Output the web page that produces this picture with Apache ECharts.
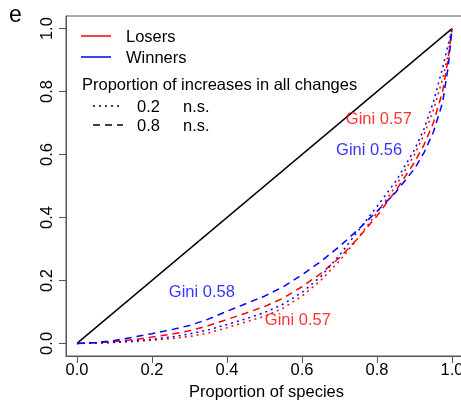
<!DOCTYPE html>
<html>
<head>
<meta charset="utf-8">
<script src="https://cdn.jsdelivr.net/npm/echarts@6/dist/echarts.min.js"></script>
<style>html,body{margin:0;padding:0;background:#fff}#c{width:461px;height:400px}</style>
</head>
<body>
<div id="c"></div>
<script>
// Proportion of species (x) for the Lorenz curves
const propSpecies = [0, 0.05, 0.1, 0.15, 0.2, 0.25, 0.3, 0.35, 0.4, 0.45, 0.5, 0.55, 0.6, 0.65, 0.7, 0.75, 0.8, 0.85, 0.9, 0.925, 0.95, 0.975, 0.99, 1];
// Cumulative proportion (y)
const losers02  = [0, 0.001, 0.003, 0.006, 0.010, 0.015, 0.022, 0.033, 0.050, 0.068, 0.086, 0.112, 0.150, 0.200, 0.262, 0.335, 0.415, 0.500, 0.600, 0.662, 0.740, 0.840, 0.920, 1];
const losers08  = [0, 0.002, 0.006, 0.012, 0.020, 0.029, 0.040, 0.056, 0.076, 0.096, 0.117, 0.144, 0.180, 0.222, 0.272, 0.335, 0.405, 0.485, 0.575, 0.630, 0.700, 0.800, 0.905, 1];
const winners02 = [0, 0.001, 0.004, 0.008, 0.013, 0.020, 0.030, 0.043, 0.060, 0.078, 0.098, 0.125, 0.162, 0.212, 0.280, 0.358, 0.435, 0.515, 0.615, 0.680, 0.765, 0.875, 0.950, 1];
const winners08 = [0, 0.003, 0.009, 0.020, 0.031, 0.043, 0.057, 0.077, 0.102, 0.126, 0.150, 0.180, 0.218, 0.260, 0.308, 0.362, 0.420, 0.480, 0.555, 0.605, 0.670, 0.765, 0.880, 1];
const equalityX = [0, 1];
const equalityY = [0, 1];
const tickValues = [0, 0.2, 0.4, 0.6, 0.8, 1.0];
const tickLabels = ['0.0', '0.2', '0.4', '0.6', '0.8', '1.0'];
// Gini annotations
const giniText  = ['Gini 0.57', 'Gini 0.56', 'Gini 0.58', 'Gini 0.57'];
const giniGroup = ['Losers', 'Winners', 'Winners', 'Losers'];
const giniX = [0.805, 0.779, 0.333, 0.589];
const giniY = [0.711, 0.612, 0.163, 0.073];

const RED = '#ff0000', BLUE = '#0000ff';
const FONT = 'Liberation Sans, Arial, sans-serif';
const FS = 16.5;
const DOT = [2, 4], DASH = [7, 5];

function pairs(xs, ys){ return xs.map((x,i)=>[x, ys[i]]); }
function lineSeries(name, ys, color, type){
  return {name, type:'line', data: pairs(propSpecies, ys), symbol:'none', smooth:false,
    lineStyle:{color, width:1.5, type}, silent:true, animation:false, z:3};
}

const chart = echarts.init(document.getElementById('c'), null, {renderer:'canvas'});
const axisCommon = {
  type:'value', splitLine:{show:false},
  axisLine:{show:true, onZero:false, lineStyle:{color:'#555', width:1}},
  axisTick:{show:true, inside:false, length:7, customValues: tickValues, lineStyle:{color:'#555', width:1}},
  axisLabel:{customValues: tickValues, formatter: v => tickLabels[tickValues.findIndex(t=>Math.abs(t-v)<1e-9)] ?? '',
    color:'#000', fontFamily:FONT, fontSize:FS}
};
chart.setOption({
  animation:false,
  backgroundColor:'#fff',
  grid:{left:66, top:16, width:401, height:340, show:true, borderColor:'#555', borderWidth:1,
        containLabel:false, outerBoundsMode:'none'},
  xAxis: Object.assign({}, axisCommon, {min:-0.0293, max:1.04,
    axisLabel:Object.assign({}, axisCommon.axisLabel, {margin:6}),
    name:'Proportion of species', nameLocation:'middle', nameGap:24,
    nameTextStyle:{color:'#000', fontFamily:FONT, fontSize:FS}}),
  yAxis: Object.assign({}, axisCommon, {min:-0.04, max:1.04,
    axisLabel:Object.assign({}, axisCommon.axisLabel, {rotate:90, margin:10})}),
  series:[
    {type:'line', data:pairs(equalityX, equalityY), symbol:'none', lineStyle:{color:'#000', width:1.4}, silent:true, z:2},
    lineSeries('Losers 0.2', losers02, RED, DOT),
    lineSeries('Losers 0.8', losers08, RED, DASH),
    lineSeries('Winners 0.2', winners02, BLUE, DOT),
    lineSeries('Winners 0.8', winners08, BLUE, DASH),
    {type:'scatter', symbolSize:0, silent:true, z:5,
     data: giniText.map((t,i)=>({value:[giniX[i], giniY[i]], name:t,
       label:{show:true, position:'inside', formatter:t, color: giniGroup[i]==='Losers'?RED:BLUE,
         fontFamily:FONT, fontSize:FS}}))}
  ],
  graphic:[
    {type:'text', left:9, top:4, style:{text:'e', font:'23px '+FONT, fill:'#000'}},
    {type:'line', shape:{x1:81, y1:36, x2:111, y2:36}, style:{stroke:RED, lineWidth:1.5}},
    {type:'text', x:126, y:37, style:{text:'Losers', font:FS+'px '+FONT, fill:'#000', verticalAlign:'middle'}},
    {type:'line', shape:{x1:81, y1:57, x2:111, y2:57}, style:{stroke:BLUE, lineWidth:1.5}},
    {type:'text', x:126, y:58, style:{text:'Winners', font:FS+'px '+FONT, fill:'#000', verticalAlign:'middle'}},
    {type:'text', x:82, y:85, style:{text:'Proportion of increases in all changes', font:FS+'px '+FONT, fill:'#000', verticalAlign:'middle'}},
    {type:'line', shape:{x1:93, y1:106, x2:123, y2:106}, style:{stroke:'#000', lineWidth:1.5, lineDash:DOT}},
    {type:'text', x:137, y:107, style:{text:'0.2', font:FS+'px '+FONT, fill:'#000', verticalAlign:'middle'}},
    {type:'text', x:183, y:107, style:{text:'n.s.', font:FS+'px '+FONT, fill:'#000', verticalAlign:'middle'}},
    {type:'line', shape:{x1:93, y1:125, x2:123, y2:125}, style:{stroke:'#000', lineWidth:1.5, lineDash:DASH}},
    {type:'text', x:137, y:126, style:{text:'0.8', font:FS+'px '+FONT, fill:'#000', verticalAlign:'middle'}},
    {type:'text', x:183, y:126, style:{text:'n.s.', font:FS+'px '+FONT, fill:'#000', verticalAlign:'middle'}}
  ]
});
</script>
</body>
</html>
